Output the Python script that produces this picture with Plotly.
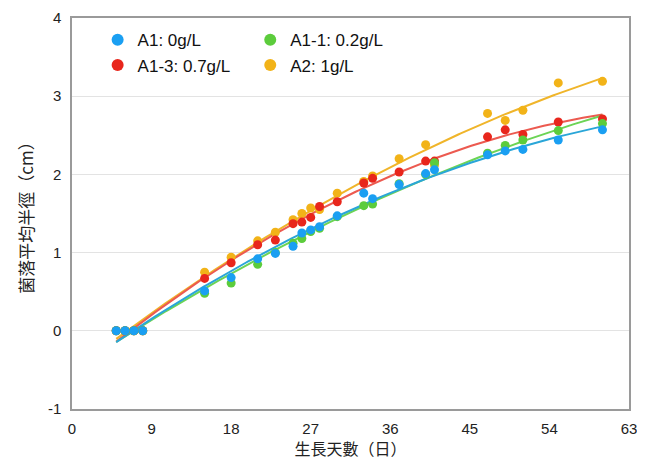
import numpy as np
import plotly.graph_objects as go

days = [5, 6, 7, 8, 15, 18, 21, 23, 25, 26, 27, 28, 30, 33, 34, 37, 40, 41, 47, 49, 51, 55, 60]

a1 =  [0, 0, 0, 0, 0.51, 0.68, 0.92, 0.99, 1.08, 1.25, 1.29, 1.33, 1.47, 1.76, 1.69, 1.87, 2.01, 2.06, 2.25, 2.30, 2.32, 2.44, 2.57]
a11 = [0, 0, 0, 0, 0.48, 0.61, 0.85, 1.00, 1.12, 1.18, 1.27, 1.31, 1.46, 1.60, 1.62, 1.88, 2.00, 2.15, 2.27, 2.37, 2.44, 2.56, 2.65]
a13 = [0, 0, 0, 0, 0.67, 0.87, 1.10, 1.16, 1.37, 1.39, 1.45, 1.59, 1.65, 1.89, 1.95, 2.03, 2.17, 2.17, 2.48, 2.57, 2.51, 2.67, 2.71]
a2 =  [0, 0, 0, 0, 0.75, 0.94, 1.15, 1.26, 1.42, 1.50, 1.57, 1.55, 1.76, 1.91, 1.98, 2.20, 2.38, 2.12, 2.78, 2.69, 2.82, 3.17, 3.19]

names = ["A1: 0g/L", "A1-1: 0.2g/L", "A1-3: 0.7g/L", "A2: 1g/L"]
series = [a1, a11, a13, a2]
colors = ["#1a9ff2", "#5ccc3c", "#e8261c", "#f2b318"]
line_colors = ["#2aa6d8", "#6cd455", "#ec5a50", "#f0b52a"]
legend_ids = ["legend", "legend2", "legend", "legend2"]

x_ticks = [0, 9, 18, 27, 36, 45, 54, 63]
y_ticks = [-1, 0, 1, 2, 3, 4]
y_tick_text = ["-1", "0", "1", "2", "3", "4"]

fig = go.Figure()
order = [3, 2, 1, 0]
xs = np.linspace(min(days), max(days), 200)
for i in order:
    coef = np.polyfit(days, series[i], 2)
    fig.add_trace(go.Scatter(x=xs, y=np.polyval(coef, xs), mode="lines",
                             line=dict(color=line_colors[i], width=2),
                             showlegend=False, hoverinfo="skip"))
for i in order:
    fig.add_trace(go.Scatter(x=days, y=series[i], mode="markers", name=names[i],
                             legend=legend_ids[i], legendrank=i + 1,
                             marker=dict(color=colors[i], size=9)))

leg_common = dict(orientation="v", yanchor="top", xanchor="left", y=0.989,
                  font=dict(size=17, color="#111"), bgcolor="rgba(0,0,0,0)",
                  traceorder="normal", itemsizing="constant", tracegroupgap=0)
fig.update_layout(
    width=637, height=452,
    margin=dict(l=64, r=16, t=10, b=51, autoexpand=False),
    paper_bgcolor="white", plot_bgcolor="white",
    font=dict(family="Liberation Sans, Arial, sans-serif", size=15, color="#222"),
    legend=dict(x=0.046, **leg_common),
    legend2=dict(x=0.32, **leg_common),
    showlegend=True,
)
fig.update_xaxes(range=[0, 63], tickvals=x_ticks, ticks="", showgrid=False,
                 zeroline=False, showline=True, linecolor="#9a9a9a", linewidth=1.5,
                 mirror=True, ticklabelstandoff=5, automargin=False,
                 title=dict(text="生長天數（日）", font=dict(size=16,
                            family="Noto Sans CJK TC, Liberation Sans, sans-serif"), standoff=14))
fig.update_yaxes(range=[-1, 4], tickvals=y_ticks, ticktext=y_tick_text, ticks="", showgrid=True,
                 gridcolor="#e3e3e3", gridwidth=1, zeroline=False,
                 showline=True, linecolor="#9a9a9a", linewidth=1.5, mirror=True,
                 ticklabelstandoff=6, automargin=False,
                 title=dict(text="菌落平均半徑（cm）", font=dict(size=17,
                            family="Noto Sans CJK TC, Liberation Sans, sans-serif"), standoff=10))

fig.write_html("out.html")
